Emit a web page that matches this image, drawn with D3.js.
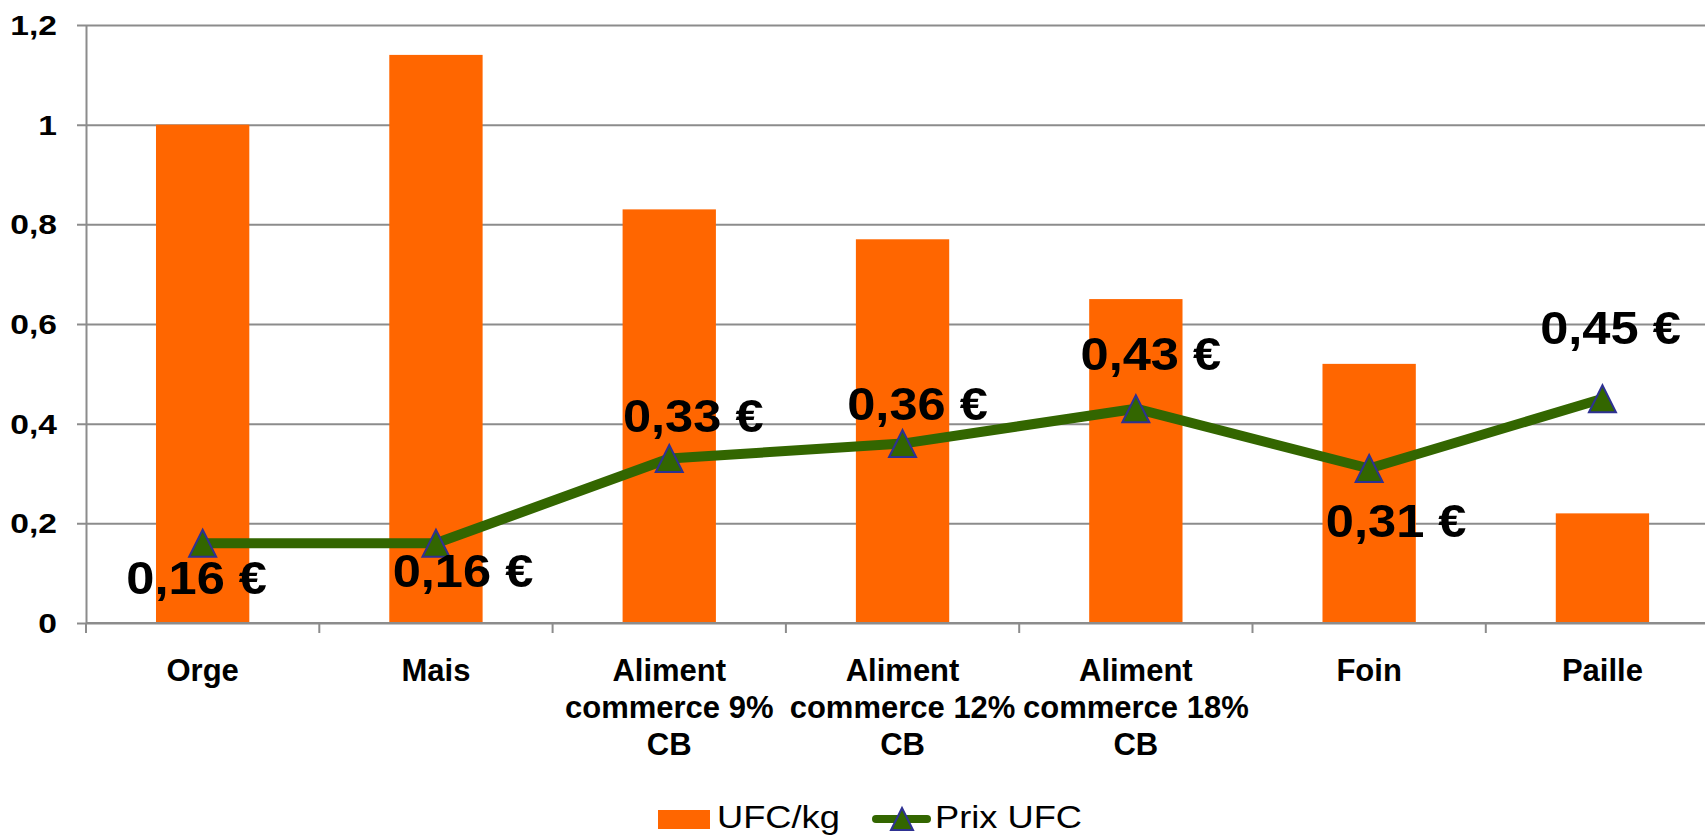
<!DOCTYPE html>
<html lang="fr">
<head>
  <meta charset="UTF-8">
  <title>UFC/kg et Prix UFC</title>
  <script src="https://d3js.org/d3.v7.min.js"></script>
  <style>
    body { margin: 0; background: #fff; }
    text { font-family: "Liberation Sans", Arial, sans-serif; fill: #000; }
  </style>
</head>
<body>
  <div id="chart"></div>
  <script>
    // donnees
    var categories = ["Orge", "Mais", "Aliment\ncommerce 9%\nCB", "Aliment\ncommerce 12%\nCB",
                      "Aliment\ncommerce 18%\nCB", "Foin", "Paille"];
    var ufcKg = [1.0, 1.14, 0.83, 0.77, 0.65, 0.52, 0.22];
    var prixUfc = [0.16, 0.16, 0.33, 0.36, 0.43, 0.31, 0.45];
    var yTicks = [0, 0.2, 0.4, 0.6, 0.8, 1, 1.2];
    var seriesNames = ["UFC/kg", "Prix UFC"];

    // placement des etiquettes (deplacees a la main dans le classeur) : [dx, dy] par rapport au point
    var labelShift = [[-6, 51], [27, 44], [24, -27], [15, -24], [15, -39], [27, 68], [8, -55]];

    var W = 1705, H = 837;
    var plotLeft = 86, plotTop = 25, plotBottom = 623, step = 233.3;
    var orange = "#ff6600", green = "#336600", blueEdge = "#2e3192", grid = "#8c8c8c";

    var fr = d3.formatLocale({ decimal: ",", thousands: " ", grouping: [3], currency: ["", " €"] });
    var fmtTick = fr.format("~g");
    var fmtPrix = fr.format(",.2f");

    var svg = d3.select("#chart").append("svg")
      .attr("width", W)
      .attr("height", H);

    var x = d3.scaleBand()
      .domain(categories)
      .range([plotLeft, plotLeft + step * categories.length])
      .paddingInner(0.6)
      .paddingOuter(0.3);

    var y = d3.scaleLinear()
      .domain([0, 1.2])
      .range([plotBottom, plotTop]);

    var plotW = x.range()[1] - plotLeft;

    // grille + axe vertical
    var yAxis = svg.append("g")
      .attr("transform", "translate(" + plotLeft + ",0)")
      .call(d3.axisLeft(y).tickValues(yTicks).tickSizeInner(-plotW).tickSizeOuter(0).tickFormat(""));
    yAxis.select(".domain").attr("stroke", grid).attr("stroke-width", 2);
    yAxis.selectAll(".tick line")
      .attr("x1", -9)
      .attr("stroke", grid)
      .attr("stroke-width", 2);

    svg.append("g").selectAll("text")
      .data(yTicks)
      .join("text")
      .attr("transform", function (d) { return "translate(57," + (y(d) + 10) + ") scale(1.2,1)"; })
      .attr("text-anchor", "end")
      .style("font-size", "28px")
      .style("font-weight", "bold")
      .text(function (d) { return fmtTick(d); });

    // barres UFC/kg
    svg.append("g").selectAll("rect")
      .data(ufcKg)
      .join("rect")
      .attr("x", function (d, i) { return x(categories[i]); })
      .attr("y", function (d) { return y(d); })
      .attr("width", x.bandwidth())
      .attr("height", function (d) { return y(0) - y(d); })
      .attr("fill", orange);

    // axe horizontal
    svg.append("line")
      .attr("x1", plotLeft).attr("x2", plotLeft + plotW)
      .attr("y1", y(0)).attr("y2", y(0))
      .attr("stroke", grid).attr("stroke-width", 2);
    svg.append("g").selectAll("line")
      .data(d3.range(categories.length + 1))
      .join("line")
      .attr("x1", function (k) { return plotLeft + k * x.step(); })
      .attr("x2", function (k) { return plotLeft + k * x.step(); })
      .attr("y1", y(0))
      .attr("y2", y(0) + 10)
      .attr("stroke", grid).attr("stroke-width", 2);

    // libelles des categories
    var catLabels = svg.append("g").selectAll("text")
      .data(categories)
      .join("text")
      .attr("text-anchor", "middle")
      .attr("x", function (d) { return x(d) + x.bandwidth() / 2; })
      .attr("y", 681)
      .style("font-size", "31px")
      .style("font-weight", "bold");
    catLabels.each(function (d) {
      var t = d3.select(this);
      var px = x(d) + x.bandwidth() / 2;
      d.split("\n").forEach(function (line, j) {
        t.append("tspan").attr("x", px).attr("dy", j === 0 ? 0 : 37).text(line);
      });
    });

    // courbe Prix UFC
    var cx = function (i) { return x(categories[i]) + x.bandwidth() / 2; };
    var line = d3.line()
      .x(function (d, i) { return cx(i); })
      .y(function (d) { return y(d); });

    svg.append("path")
      .datum(prixUfc)
      .attr("d", line)
      .attr("fill", "none")
      .attr("stroke", green)
      .attr("stroke-width", 10)
      .attr("stroke-linejoin", "round");

    var tri = "M0,-13.5L13.5,13.5L-13.5,13.5Z";
    svg.append("g").selectAll("path")
      .data(prixUfc)
      .join("path")
      .attr("d", tri)
      .attr("transform", function (d, i) { return "translate(" + cx(i) + "," + y(d) + ")"; })
      .attr("fill", green)
      .attr("stroke", blueEdge)
      .attr("stroke-width", 2);

    svg.append("g").selectAll("text")
      .data(prixUfc)
      .join("text")
      .attr("transform", function (d, i) {
        return "translate(" + (cx(i) + labelShift[i][0]) + "," + (y(d) + labelShift[i][1]) + ") scale(1.1,1)";
      })
      .attr("text-anchor", "middle")
      .style("font-size", "46px")
      .style("font-weight", "bold")
      .text(function (d) { return fmtPrix(d) + " €"; });

    // legende
    var leg = svg.append("g");
    leg.append("rect")
      .attr("x", 658).attr("y", 810)
      .attr("width", 52).attr("height", 19)
      .attr("fill", orange);
    leg.append("text")
      .attr("transform", "translate(717,828) scale(1.17,1)")
      .style("font-size", "31px")
      .text(seriesNames[0]);
    leg.append("line")
      .attr("x1", 876).attr("x2", 927)
      .attr("y1", 819).attr("y2", 819)
      .attr("stroke", green)
      .attr("stroke-width", 8)
      .attr("stroke-linecap", "round");
    leg.append("path")
      .attr("d", "M0,-11L11,11L-11,11Z")
      .attr("transform", "translate(902,819)")
      .attr("fill", green)
      .attr("stroke", blueEdge)
      .attr("stroke-width", 2);
    leg.append("text")
      .attr("transform", "translate(935,828) scale(1.17,1)")
      .style("font-size", "31px")
      .text(seriesNames[1]);
  </script>
</body>
</html>
